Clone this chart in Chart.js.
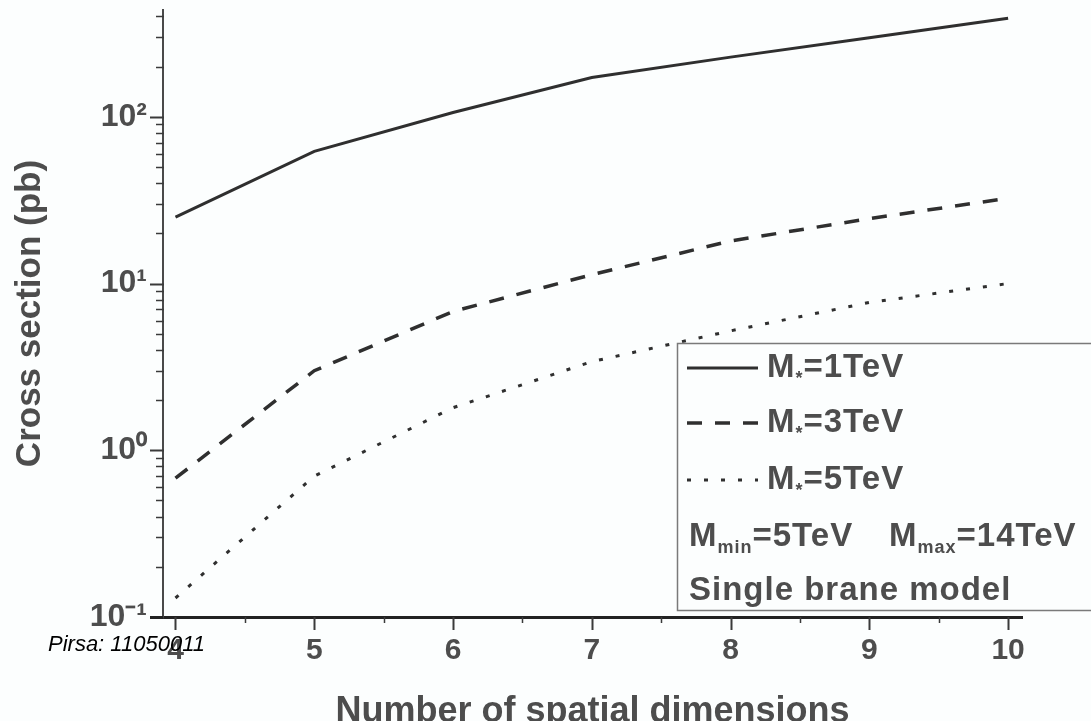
<!DOCTYPE html>
<html>
<head>
<meta charset="utf-8">
<script src="https://cdn.jsdelivr.net/npm/chart.js@4.4.0/dist/chart.umd.min.js"></script>
<style>
  html, body { margin: 0; padding: 0; overflow: hidden; background: #fcfefe; }
  canvas { display: block; }
</style>
</head>
<body>
<canvas id="canvasSeccion" width="1091" height="740"></canvas>
<script>
// Valores (sección eficaz en pb)
var dimensiones = [4, 5, 6, 7, 8, 9, 10];
var seccion1TeV = [25, 62, 106, 172, 228, 298, 390];
var seccion3TeV = [0.68, 3.0, 6.8, 11.3, 18, 24.5, 32.5];
var seccion5TeV = [0.13, 0.7, 1.8, 3.4, 5.2, 7.7, 10];
var masasSeries = ["1TeV", "3TeV", "5TeV"];

// Marcas de los ejes
var ticksX = [4, 4.5, 5, 5.5, 6, 6.5, 7, 7.5, 8, 8.5, 9, 9.5, 10];
var ticksYMayores = [0.1, 1, 10, 100];
var etiquetasY = ["10\u207B\u00B9", "10\u2070", "10\u00B9", "10\u00B2"];

var colorTexto = "#4d4d4d";
var colorLinea = "#2f2f2f";
var fuente = "'Liberation Sans', Arial, sans-serif";

// Marcas menores del eje logarítmico (2..9 de cada década)
var ticksY = [];
ticksYMayores.forEach(function (base) {
  ticksY.push(base);
  for (var k = 2; k <= 9; k++) {
    if (base * k <= 437) ticksY.push(base * k);
  }
});

function puntos(valores) {
  return dimensiones.map(function (d, i) {
    return { x: d, y: valores[i] };
  });
}

// Dibuja un texto con partes en subíndice
function textoSub(ctx, partes, x, y, tam) {
  partes.forEach(function (p) {
    if (p.sub) {
      ctx.font = "bold " + Math.round(tam * 0.55) + "px " + fuente;
      ctx.fillText(p.t, x, y + tam * 0.32);
    } else {
      ctx.font = "bold " + tam + "px " + fuente;
      ctx.fillText(p.t, x, y);
    }
    x += ctx.measureText(p.t).width;
  });
}

// Marcas de los ejes, leyenda y sello
var extras = {
  id: "extras",
  afterDraw: function (chart) {
    var ctx = chart.ctx;
    var ejeX = chart.scales.x;
    var ejeY = chart.scales.y;
    ctx.save();

    // Marcas del eje Y
    ctx.strokeStyle = "#3a3a3a";
    ejeY.ticks.forEach(function (t) {
      var py = Math.round(ejeY.getPixelForValue(t.value)) + 0.5;
      var mayor = ticksYMayores.indexOf(t.value) >= 0;
      ctx.lineWidth = mayor ? 2 : 1.5;
      ctx.beginPath();
      ctx.moveTo(ejeY.right - (mayor ? 13 : 7), py);
      ctx.lineTo(ejeY.right + 1, py);
      ctx.stroke();
    });

    // Marcas del eje X
    ejeX.ticks.forEach(function (t) {
      var px = Math.round(ejeX.getPixelForValue(t.value)) + 0.5;
      var mayor = t.value % 1 === 0;
      ctx.lineWidth = mayor ? 2 : 1.5;
      ctx.beginPath();
      ctx.moveTo(px, ejeX.top);
      ctx.lineTo(px, ejeX.top + (mayor ? 13 : 6));
      ctx.stroke();
    });

    // Prolongación del eje X hacia la izquierda
    ctx.strokeStyle = "#222222";
    ctx.lineWidth = 3;
    ctx.beginPath();
    ctx.moveTo(150, ejeX.top + 0.5);
    ctx.lineTo(ejeY.right, ejeX.top + 0.5);
    ctx.stroke();

    // Caja de la leyenda
    ctx.fillStyle = "#fcfefe";
    ctx.fillRect(677, 343, 414, 267);
    ctx.strokeStyle = "#7a7a7a";
    ctx.lineWidth = 1.5;
    ctx.strokeRect(677.5, 343.5, 420, 267);

    ctx.letterSpacing = "1px";
    var filas = [368, 423, 480];
    chart.data.datasets.forEach(function (ds, i) {
      ctx.strokeStyle = ds.borderColor;
      ctx.lineWidth = ds.borderWidth;
      ctx.setLineDash(ds.borderDash || []);
      ctx.beginPath();
      ctx.moveTo(687, filas[i]);
      ctx.lineTo(758, filas[i]);
      ctx.stroke();
      ctx.setLineDash([]);
      ctx.fillStyle = colorTexto;
      ctx.textBaseline = "middle";
      textoSub(ctx, [{ t: "M" }, { t: "*", sub: true }, { t: "=" + masasSeries[i] }], 767, filas[i], 33);
    });

    ctx.fillStyle = colorTexto;
    ctx.textBaseline = "middle";
    textoSub(ctx, [{ t: "M" }, { t: "min", sub: true }, { t: "=5TeV" }], 689, 537, 33);
    textoSub(ctx, [{ t: "M" }, { t: "max", sub: true }, { t: "=14TeV" }], 889, 537, 33);
    ctx.font = "bold 33px " + fuente;
    ctx.fillText("Single brane model", 689, 591);
    ctx.letterSpacing = "0px";

    // Sello del vídeo
    ctx.fillStyle = "#000000";
    ctx.font = "italic 22px " + fuente;
    ctx.fillText("Pirsa: 11050011", 48, 645);
    ctx.restore();
  }
};

var ctx = document.getElementById("canvasSeccion").getContext("2d");
var chart = new Chart(ctx, {
  type: "line",
  data: {
    datasets: [
      {
        label: "M*=" + masasSeries[0],
        data: puntos(seccion1TeV),
        borderColor: colorLinea,
        borderWidth: 3,
        pointRadius: 0,
      },
      {
        label: "M*=" + masasSeries[1],
        data: puntos(seccion3TeV),
        borderColor: colorLinea,
        borderWidth: 3.5,
        borderDash: [15, 13],
        pointRadius: 0,
      },
      {
        label: "M*=" + masasSeries[2],
        data: puntos(seccion5TeV),
        borderColor: colorLinea,
        borderWidth: 3,
        borderDash: [4, 13],
        pointRadius: 0,
      },
    ],
  },
  options: {
    responsive: false,
    animation: false,
    devicePixelRatio: 1,
    layout: { padding: { top: 10, right: 69, left: 0, bottom: 0 } },
    plugins: {
      legend: { display: false },
      tooltip: { enabled: false },
    },
    scales: {
      x: {
        type: "linear",
        min: 3.91,
        max: 10.1,
        afterBuildTicks: function (scale) {
          scale.ticks = ticksX.map(function (v) { return { value: v }; });
        },
        afterFit: function (scale) {
          scale.height = 123;
          scale.paddingLeft = 0;
          scale.paddingRight = 0;
        },
        grid: { display: false, drawTicks: false },
        border: { display: true, color: "#222222", width: 3 },
        ticks: {
          autoSkip: false,
          maxRotation: 0,
          padding: 16,
          color: colorTexto,
          font: { family: fuente, size: 30, weight: "bold" },
          callback: function (v) {
            return v % 1 === 0 ? String(v) : "";
          },
        },
        title: {
          display: true,
          text: "Number of spatial dimensions",
          color: colorTexto,
          font: { family: fuente, size: 36, weight: "bold" },
          padding: { top: 0, bottom: 6 },
        },
      },
      y: {
        type: "logarithmic",
        min: 0.1,
        max: 437,
        afterBuildTicks: function (scale) {
          scale.ticks = ticksY.map(function (v) { return { value: v }; });
        },
        afterFit: function (scale) {
          scale.width = 163;
          scale.paddingTop = 0;
          scale.paddingBottom = 0;
        },
        grid: { display: false, drawTicks: false },
        border: { display: true, color: "#4a4a4a", width: 2 },
        ticks: {
          autoSkip: false,
          padding: 16,
          color: colorTexto,
          font: { family: fuente, size: 32, weight: "bold" },
          callback: function (v) {
            var i = ticksYMayores.indexOf(v);
            return i >= 0 ? etiquetasY[i] : "";
          },
        },
        title: {
          display: true,
          text: "Cross section (pb)",
          color: colorTexto,
          font: { family: fuente, size: 35, weight: "bold" },
          padding: { top: 9, bottom: 0 },
        },
      },
    },
  },
  plugins: [extras],
});
</script>
</body>
</html>
